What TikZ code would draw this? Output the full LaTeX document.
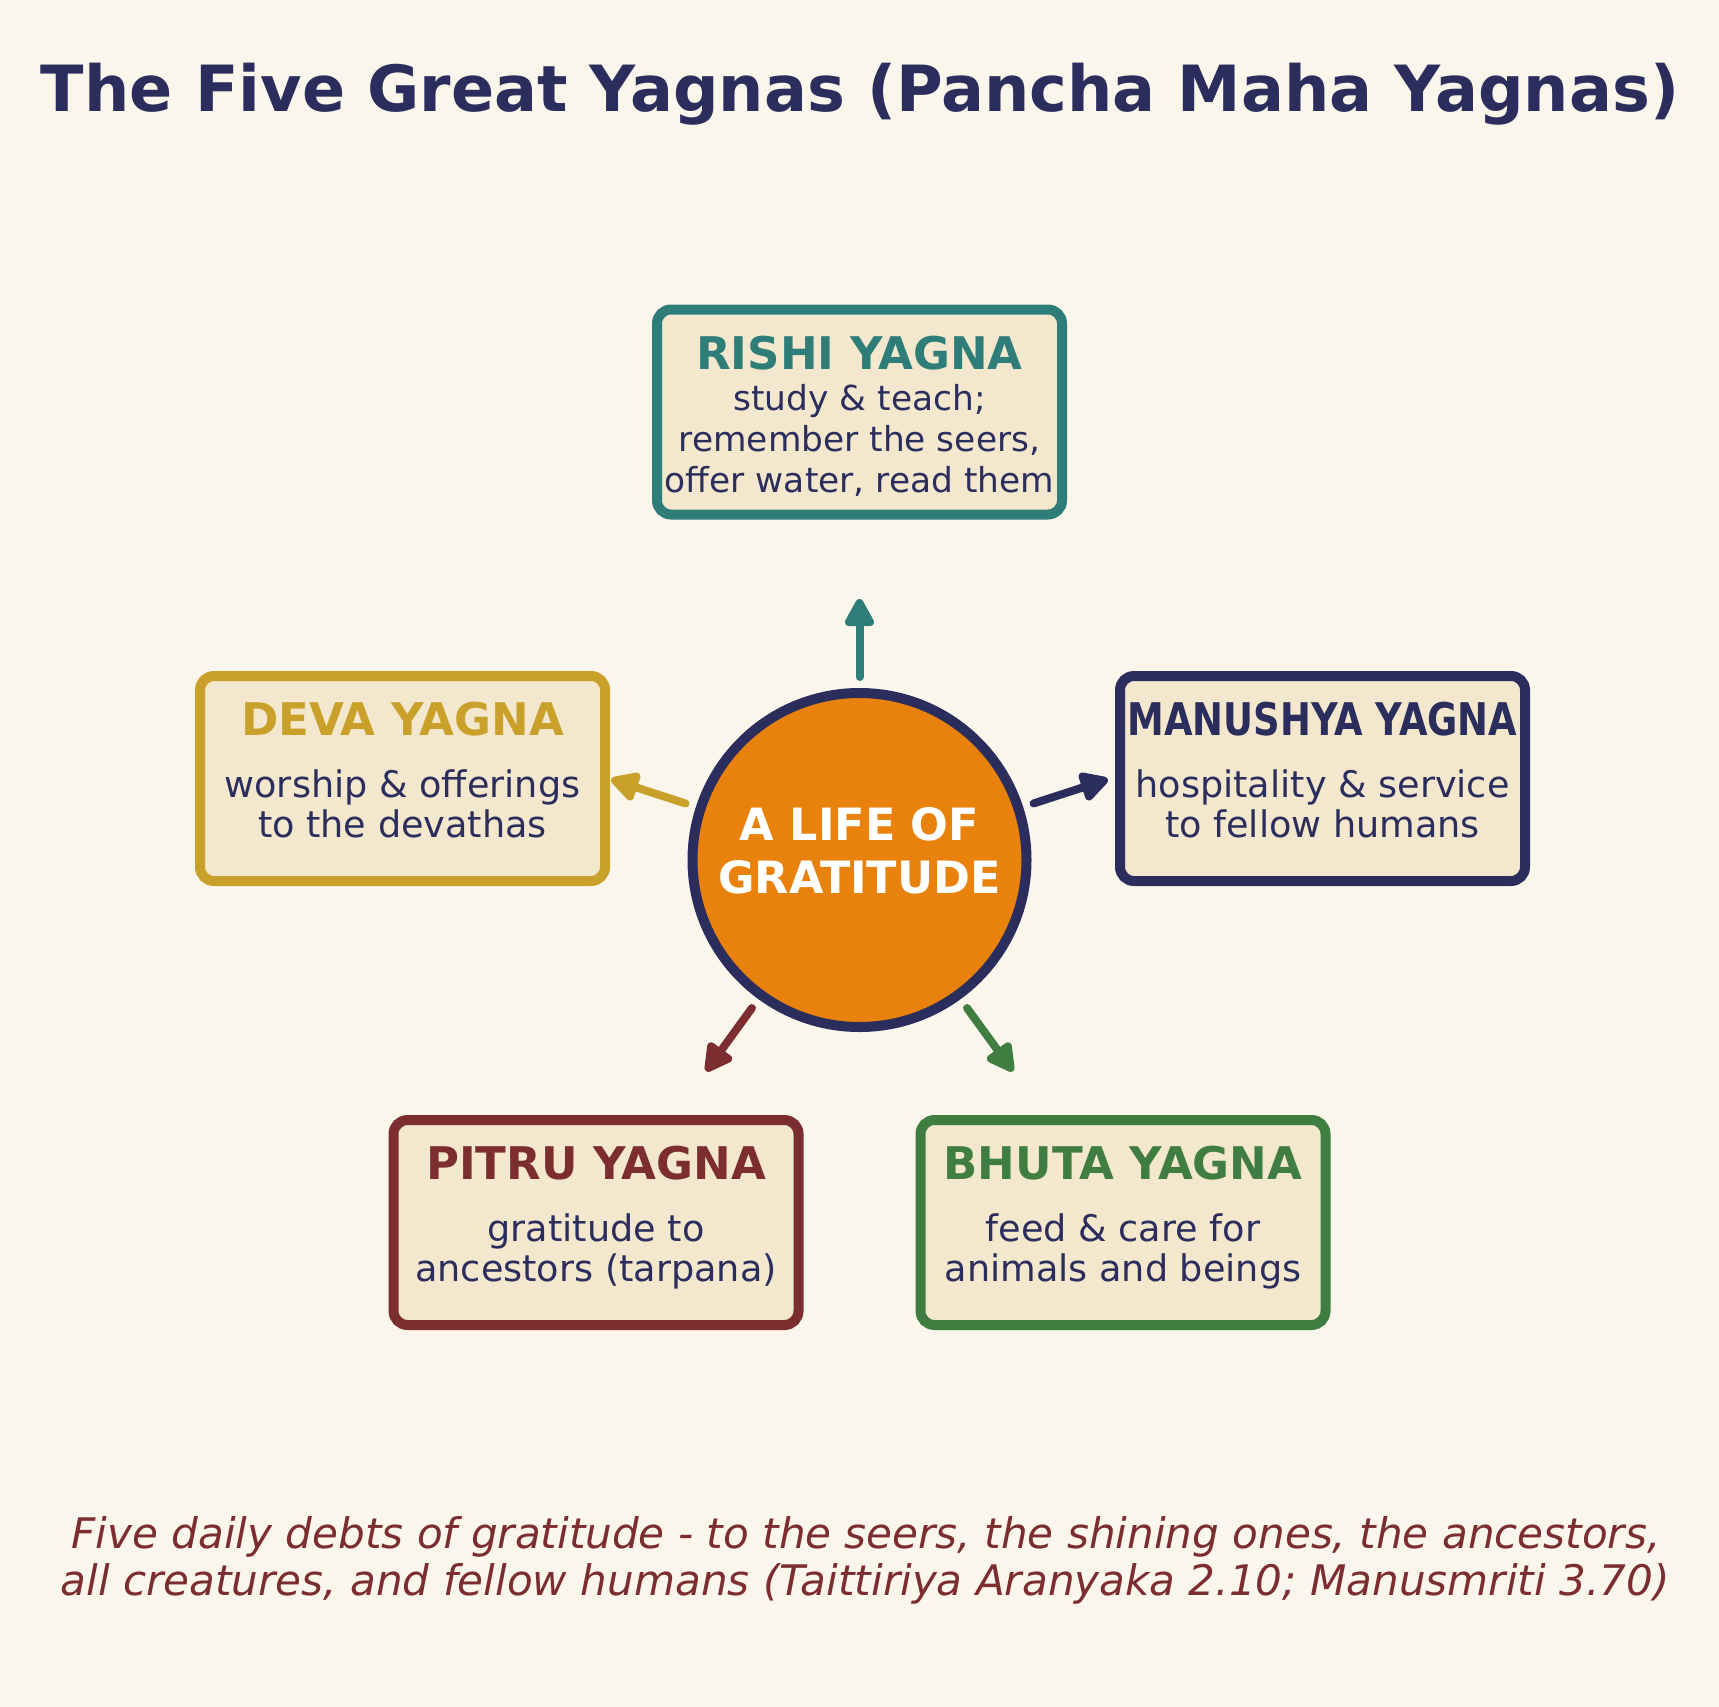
\documentclass[tikz,border=0pt]{standalone}
\usepackage{fontspec}
\setmainfont{DejaVu Sans}
\usetikzlibrary{arrows.meta,calc}
\definecolor{bg}{HTML}{FAF6EC}
\definecolor{boxfill}{HTML}{F3E7CD}
\definecolor{navy}{HTML}{2B2D5C}
\definecolor{teal}{HTML}{2E7D78}
\definecolor{gold}{HTML}{C9A12A}
\definecolor{maroon}{HTML}{7B2D2F}
\definecolor{leaf}{HTML}{407D41}
\definecolor{hubfill}{HTML}{E8820C}
\tikzset{
  ybox/.style={draw=#1, line width=10bp, fill=boxfill, rounded corners=14bp,
    minimum width=405bp, minimum height=205bp, inner sep=0pt},
  ytitle/.style={text=#1, font=\fontsize{45bp}{52bp}\selectfont\bfseries, anchor=base, inner sep=0pt},
  ybody/.style={text=navy, font=\fontsize{36.6bp}{41bp}\selectfont, anchor=base, inner sep=0pt},
  rbody/.style={text=navy, font=\fontsize{34.4bp}{41bp}\selectfont, anchor=base, inner sep=0pt},
  hubnode/.style={circle, draw=navy, line width=10bp, fill=hubfill, minimum size=334bp, inner sep=0pt},
  hubtext/.style={text=white, font=\fontsize{44.5bp}{52bp}\selectfont\bfseries, anchor=base, inner sep=0pt},
  maintitle/.style={text=navy, font=\fontsize{63.7bp}{75bp}\selectfont\bfseries, anchor=base, inner sep=0pt},
  foot/.style={text=maroon, font=\fontsize{42.1bp}{47bp}\selectfont\itshape, anchor=base, inner sep=0pt},
  yarrow/.style={draw=#1, line width=8bp, line cap=round, -{Triangle[length=32bp,width=32bp,round]}}
}
\begin{document}
\begin{tikzpicture}[x=1bp,y=-1bp]
\fill[bg] (0,0) rectangle (1719,1707);
\useasboundingbox (0,0) rectangle (1719,1707);

\node[maintitle] (title) at (860,111.5) {The Five Great Yagnas (Pancha Maha Yagnas)};

% hub
\node[hubnode] (hub) at (859.5,860) {};
\node[hubtext] (hub1) at (859.5,840) {A LIFE OF};
\node[hubtext] (hub2) at (859.5,893) {GRATITUDE};

% Rishi
\node[ybox=teal] (rishi) at (859.5,412) {};
\node[ytitle=teal] (rishiT) at (859.5,369) {RISHI YAGNA};
\node[rbody] (rishiA) at (859.5,410) {study \& teach;};
\node[rbody] (rishiB) at (859.5,451) {remember the seers,};
\node[rbody] (rishiC) at (859.5,492) {offer water, read them};

% Deva
\node[ybox=gold] (deva) at (402.5,778.5) {};
\node[ytitle=gold] (devaT) at (402.5,735) {DEVA YAGNA};
\node[ybody] (devaA) at (402.5,797) {worship \& offerings};
\node[ybody] (devaB) at (402.5,837.5) {to the devathas};

% Manushya
\node[ybox=navy] (manu) at (1322.5,778.5) {};
\node[ytitle=navy] (manuT) at (1322.5,735) {\scalebox{0.82}[1]{MANUSHYA YAGNA}};
\node[ybody] (manuA) at (1322.5,797) {hospitality \& service};
\node[ybody] (manuB) at (1322.5,837.5) {to fellow humans};

% Pitru
\node[ybox=maroon] (pitru) at (596,1222.5) {};
\node[ytitle=maroon] (pitruT) at (596,1179) {PITRU YAGNA};
\node[ybody] (pitruA) at (596,1241) {gratitude to};
\node[ybody] (pitruB) at (596,1281.5) {ancestors (tarpana)};

% Bhuta
\node[ybox=leaf] (bhuta) at (1123,1222.5) {};
\node[ytitle=leaf] (bhutaT) at (1123,1179) {BHUTA YAGNA};
\node[ybody] (bhutaA) at (1123,1241) {feed \& care for};
\node[ybody] (bhutaB) at (1123,1281.5) {animals and beings};

% arrows
\coordinate (rishiEnd) at ($(hub.center)+(-90:261)$);
\coordinate (devaEnd) at ($(hub.center)+(-162:261)$);
\coordinate (manuEnd) at ($(hub.center)+(-18:261)$);
\coordinate (pitruEnd) at ($(hub.center)+(126:261)$);
\coordinate (bhutaEnd) at ($(hub.center)+(54:261)$);
\draw[yarrow=teal] ($(hub.center)+(-90:183)$) -- (rishiEnd);
\draw[yarrow=gold] ($(hub.center)+(-162:183)$) -- (devaEnd);
\draw[yarrow=navy] ($(hub.center)+(-18:183)$) -- (manuEnd);
\draw[yarrow=maroon] ($(hub.center)+(126:183)$) -- (pitruEnd);
\draw[yarrow=leaf] ($(hub.center)+(54:183)$) -- (bhutaEnd);

% footer
\node[foot] (foot1) at (866,1548) {Five daily debts of gratitude - to the seers, the shining ones, the ancestors,};
\node[foot] (foot2) at (865,1595) {all creatures, and fellow humans (Taittiriya Aranyaka 2.10; Manusmriti 3.70)};
\end{tikzpicture}
\end{document}
